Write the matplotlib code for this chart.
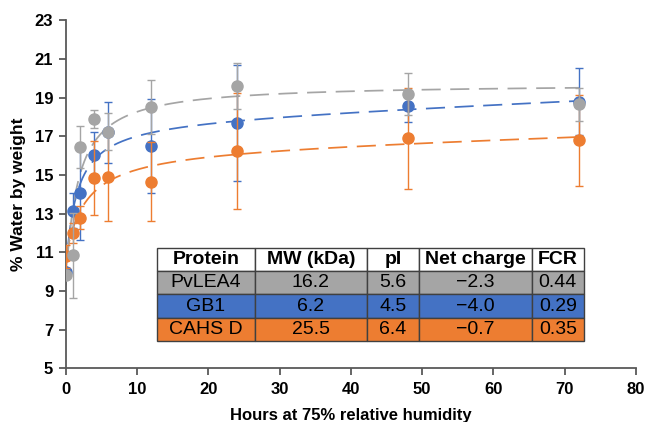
import numpy as np
import matplotlib
matplotlib.use("Agg")
import matplotlib.pyplot as plt

plt.rcParams['font.family'] = ['Liberation Sans', 'DejaVu Sans']

# ---- data ----
hours = [0, 1, 2, 4, 6, 12, 24, 48, 72]
pvlea4 = [9.85, 10.85, 16.45, 17.9, 17.25, 18.5, 19.6, 19.2, 18.65]
pvlea4_err = [0.15, 2.2, 1.1, 0.45, 0.95, 1.4, 1.2, 1.1, 0.85]
gb1 = [10.0, 13.15, 14.05, 16.05, 17.2, 16.5, 17.7, 18.55, 18.8]
gb1_err = [0.2, 0.9, 2.4, 1.15, 1.6, 2.45, 3.0, 0.8, 1.75]
cahsd = [10.8, 12.0, 12.8, 14.85, 14.9, 14.65, 16.25, 16.9, 16.8]
cahsd_err = [0.6, 0.5, 0.6, 1.9, 2.3, 2.05, 3.0, 2.6, 2.35]

table_cols = ["Protein", "MW (kDa)", "pI", "Net charge", "FCR"]
table_rows = [
    ["PvLEA4", "16.2", "5.6", "\u22122.3", "0.44"],
    ["GB1", "6.2", "4.5", "\u22124.0", "0.29"],
    ["CAHS D", "25.5", "6.4", "\u22120.7", "0.35"],
]

C_GREY = "#A5A5A5"
C_BLUE = "#4472C4"
C_ORANGE = "#ED7D31"


def binding_fit(t, y):
    """Least-squares fit of y = y0 + A*t/(K+t) + B*t with B >= 0
    (saturation plus non-negative linear component)."""
    t = np.asarray(t, float)
    y = np.asarray(y, float)
    best = None
    for K in np.logspace(-1.5, 1.7, 400):
        X = np.column_stack([np.ones_like(t), t / (K + t), t])
        coef, *_ = np.linalg.lstsq(X, y, rcond=None)
        if coef[2] < 0:
            c2, *_ = np.linalg.lstsq(X[:, :2], y, rcond=None)
            coef = np.array([c2[0], c2[1], 0.0])
        sse = np.sum((X @ coef - y) ** 2)
        if best is None or sse < best[0]:
            best = (sse, K, coef)
    _, K, coef = best
    return lambda tt: coef[0] + coef[1] * tt / (K + tt) + coef[2] * tt


fig = plt.figure(figsize=(6.46, 4.22), dpi=100)
ax = fig.add_axes([0.1017, 0.1268, 0.8828, 0.8251])

tt = np.linspace(0, 72, 800)
series = [
    (gb1, gb1_err, C_BLUE, 3),
    (cahsd, cahsd_err, C_ORANGE, 4),
    (pvlea4, pvlea4_err, C_GREY, 5),
]
for vals, err, col, z in series:
    f = binding_fit(hours, vals)
    ax.plot(tt, f(tt), color=col, lw=1.25, linestyle=(0, (11, 5.5)), zorder=2)
for vals, err, col, z in series:
    ax.errorbar(hours, vals, yerr=err, fmt='o', color=col, ms=8,
                ecolor=col, elinewidth=1.0, capsize=2.6, capthick=1.0,
                mec=col, zorder=z)

ax.set_xlim(0, 80)
ax.set_ylim(5, 23)
ax.set_xticks(np.arange(0, 81, 10))
ax.set_yticks(np.arange(5, 24, 2))
for s in ["top", "right"]:
    ax.spines[s].set_visible(False)
for s in ["left", "bottom"]:
    ax.spines[s].set_color("#595959")
    ax.spines[s].set_linewidth(1.3)
ax.tick_params(axis='both', direction='out', length=5, width=1.3,
               color="#595959", labelsize=12)
ax.tick_params(axis='x', pad=5)
ax.tick_params(axis='y', pad=4)
for lab in ax.get_xticklabels() + ax.get_yticklabels():
    lab.set_fontweight('bold')

ax.set_xlabel("Hours at 75% relative humidity", fontsize=12, fontweight='bold', labelpad=8)
ax.set_ylabel("% Water by weight", fontsize=12.5, fontweight='bold', labelpad=6)

# ---- table ----
tbl = ax.table(cellText=table_rows, colLabels=table_cols,
               cellLoc='center', bbox=[0.1596, 0.0798, 0.749, 0.2654],
               colWidths=[0.230, 0.261, 0.123, 0.263, 0.122])
tbl.auto_set_font_size(False)
row_colors = [C_GREY, C_BLUE, C_ORANGE]
for (r, c), cell in tbl.get_celld().items():
    cell.set_edgecolor("#404040")
    cell.set_linewidth(1.0)
    cell.get_text().set_fontsize(14)
    cell.get_text().set_color("black")
    if r == 0:
        cell.set_facecolor("white")
        cell.get_text().set_fontweight('bold')
    else:
        cell.set_facecolor(row_colors[r - 1])
tbl.set_zorder(10)

fig.savefig("out.png", dpi=100)
